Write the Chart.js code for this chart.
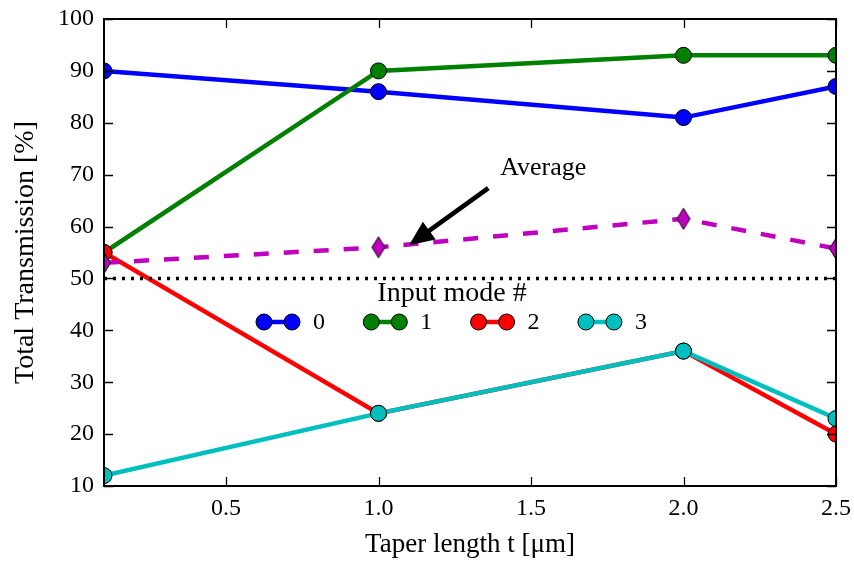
<!DOCTYPE html>
<html>
<head>
<meta charset="utf-8">
<script src="https://cdn.jsdelivr.net/npm/chart.js@4/dist/chart.umd.min.js"></script>
<style>
html,body{margin:0;padding:0;background:#fff;}
#wrap{width:854px;height:562px;position:relative;}
</style>
</head>
<body>
<div id="wrap"><canvas id="c" width="854" height="562"></canvas></div>
<script>
// ---- data ----
const taperLength = [0.1, 1.0, 2.0, 2.5];
const mode0 = [90, 86, 81, 87];
const mode1 = [55, 90, 93, 93];
const mode2 = [55, 24, 36, 20];
const mode3 = [12, 24, 36, 23];
const averageTransmission = [53, 56, 61.5, 55.75];
const referenceX = [0.1, 2.5];
const referenceLevel = [50, 50];
const modeLabels = ['0', '1', '2', '3'];
const legendTitle = 'Input mode #';
const xTickValues = [0.5, 1.0, 1.5, 2.0, 2.5];
const yTickValues = [10, 20, 30, 40, 50, 60, 70, 80, 90, 100];
const annotationLabel = 'Average';
const annotationTip = [1.1, 56.4];
const annotationTail = [1.36, 67.4];
const annotationTextAt = [1.54, 71.3];
const xTitle = 'Taper length t [\u03bcm]';
const yTitle = 'Total Transmission [%]';

// ---- styles ----
const SERIF = "'Liberation Serif', 'DejaVu Serif', serif";
const modeColors = ['#0000ff', '#008000', '#ff0000', '#00bfbf'];
const avgColor = '#bf00bf';

function pts(xs, ys) { return xs.map((x, i) => ({x: x, y: ys[i]})); }

// thin diamond marker
function thinDiamond(color) {
  const c = document.createElement('canvas');
  c.width = 16; c.height = 24;
  const g = c.getContext('2d');
  g.beginPath();
  g.moveTo(8, 1.5); g.lineTo(14.5, 12); g.lineTo(8, 22.5); g.lineTo(1.5, 12); g.closePath();
  g.fillStyle = color; g.fill();
  g.lineWidth = 1; g.strokeStyle = '#000'; g.stroke();
  return c;
}

const modeSeries = [mode0, mode1, mode2, mode3];
const datasets = modeSeries.map((s, i) => ({
  label: modeLabels[i],
  data: pts(taperLength, s),
  borderColor: modeColors[i],
  backgroundColor: modeColors[i],
  borderWidth: 4.5,
  pointRadius: 8,
  pointHoverRadius: 8,
  pointBorderColor: '#000',
  pointBorderWidth: 1,
  pointBackgroundColor: modeColors[i],
  tension: 0,
  clip: 0,
  order: 10 - i
}));
datasets.push({
  label: 'Average',
  data: pts(taperLength, averageTransmission),
  borderColor: avgColor,
  backgroundColor: avgColor,
  borderWidth: 4.5,
  borderDash: [15, 15],
  pointStyle: thinDiamond(avgColor),
  pointRadius: 10,
  tension: 0,
  clip: 0,
  order: 2,
  inLegend: false
});
datasets.push({
  label: '50%',
  data: pts(referenceX, referenceLevel),
  borderColor: '#000',
  borderWidth: 3.5,
  borderDash: [3, 6],
  pointRadius: 0,
  tension: 0,
  clip: 0,
  order: 1,
  inLegend: false
});

const framePlugin = {
  id: 'frame',
  beforeDatasetsDraw(chart) {
    const {ctx, chartArea: a} = chart;
    ctx.save();
    ctx.beginPath();
    ctx.rect(a.left, a.top, a.right - a.left, a.bottom - a.top);
    ctx.clip();
  },
  afterDatasetsDraw(chart) {
    const {ctx, chartArea: a, scales} = chart;
    ctx.restore();
    ctx.save();
    ctx.strokeStyle = '#000';
    // inward ticks
    ctx.lineWidth = 1.3;
    ctx.beginPath();
    xTickValues.forEach(v => {
      const px = Math.round(scales.x.getPixelForValue(v)) + 0.5;
      ctx.moveTo(px, a.bottom); ctx.lineTo(px, a.bottom - 9);
      ctx.moveTo(px, a.top); ctx.lineTo(px, a.top + 9);
    });
    yTickValues.forEach(v => {
      const py = Math.round(scales.y.getPixelForValue(v)) + 0.5;
      ctx.moveTo(a.left, py); ctx.lineTo(a.left + 9, py);
      ctx.moveTo(a.right, py); ctx.lineTo(a.right - 9, py);
    });
    ctx.stroke();
    ctx.lineWidth = 2;
    ctx.strokeRect(a.left, a.top, a.right - a.left, a.bottom - a.top);
    ctx.restore();
  },
  afterDraw(chart) {
    const {ctx, chartArea: a, scales} = chart;
    ctx.save();
    // annotation arrow
    const tx = scales.x.getPixelForValue(annotationTail[0]);
    const ty = scales.y.getPixelForValue(annotationTail[1]);
    const hx = scales.x.getPixelForValue(annotationTip[0]);
    const hy = scales.y.getPixelForValue(annotationTip[1]);
    const ang = Math.atan2(hy - ty, hx - tx);
    const headLen = 25, headHalf = 11, shaftHalf = 2.4;
    const len = Math.hypot(hx - tx, hy - ty);
    ctx.translate(tx, ty);
    ctx.rotate(ang);
    ctx.beginPath();
    ctx.moveTo(0, -shaftHalf);
    ctx.lineTo(len - headLen, -shaftHalf);
    ctx.lineTo(len - headLen, -headHalf);
    ctx.lineTo(len, 0);
    ctx.lineTo(len - headLen, headHalf);
    ctx.lineTo(len - headLen, shaftHalf);
    ctx.lineTo(0, shaftHalf);
    ctx.closePath();
    ctx.fillStyle = '#000';
    ctx.fill();
    ctx.restore();

    ctx.save();
    ctx.fillStyle = '#000';
    ctx.font = '26px ' + SERIF;
    ctx.textAlign = 'center';
    ctx.textBaseline = 'middle';
    ctx.fillText(annotationLabel,
      scales.x.getPixelForValue(annotationTextAt[0]),
      scales.y.getPixelForValue(annotationTextAt[1]));

    // legend
    const titleX = a.left + 348, titleY = a.top + 275;
    ctx.font = '28px ' + SERIF;
    ctx.fillText(legendTitle, titleX, titleY);
    const rowY = a.top + 303;
    const step = 107.3;
    chart.data.datasets.forEach((ds, i) => {
      if (ds.inLegend === false) return;
      const x1 = a.left + 160 + i * step;
      const x2 = x1 + 28;
      ctx.strokeStyle = ds.borderColor;
      ctx.lineWidth = 4.5;
      ctx.beginPath();
      ctx.moveTo(x1, rowY); ctx.lineTo(x2, rowY);
      ctx.stroke();
      [x1, x2].forEach(cx => {
        ctx.beginPath();
        ctx.arc(cx, rowY, 8, 0, Math.PI * 2);
        ctx.fillStyle = ds.pointBackgroundColor;
        ctx.fill();
        ctx.lineWidth = 1;
        ctx.strokeStyle = '#000';
        ctx.stroke();
      });
      ctx.fillStyle = '#000';
      ctx.font = '24px ' + SERIF;
      ctx.textAlign = 'left';
      ctx.fillText(ds.label, x2 + 21, rowY + 1);
      ctx.textAlign = 'center';
    });
    ctx.restore();
  }
};

new Chart(document.getElementById('c'), {
  type: 'line',
  data: {datasets: datasets},
  options: {
    responsive: false,
    animation: false,
    devicePixelRatio: 1,
    layout: {padding: {top: 19, right: 18, left: 0, bottom: 0}},
    plugins: {legend: {display: false}, tooltip: {enabled: false}},
    scales: {
      x: {
        type: 'linear',
        min: 0.1, max: 2.5,
        afterBuildTicks: s => { s.ticks = xTickValues.map(v => ({value: v})); },
        afterFit: s => { s.height = 76; s.paddingLeft = 0; s.paddingRight = 0; },
        grid: {display: false, drawTicks: false},
        border: {display: false},
        ticks: {
          color: '#000', padding: 8, maxRotation: 0,
          font: {family: SERIF, size: 24},
          callback: v => Number(v).toFixed(1)
        },
        title: {display: true, text: xTitle, color: '#000',
          font: {family: SERIF, size: 27}, padding: {top: 0, bottom: 1}}
      },
      y: {
        type: 'linear',
        min: 10, max: 100,
        afterBuildTicks: s => { s.ticks = yTickValues.map(v => ({value: v})); },
        afterFit: s => { s.width = 104; s.paddingTop = 0; s.paddingBottom = 0; },
        grid: {display: false, drawTicks: false},
        border: {display: false},
        ticks: {color: '#000', padding: 10, font: {family: SERIF, size: 24}},
        title: {display: true, text: yTitle, color: '#000',
          font: {family: SERIF, size: 28}, padding: {top: 9, bottom: 0}}
      }
    }
  },
  plugins: [framePlugin]
});
</script>
</body>
</html>
